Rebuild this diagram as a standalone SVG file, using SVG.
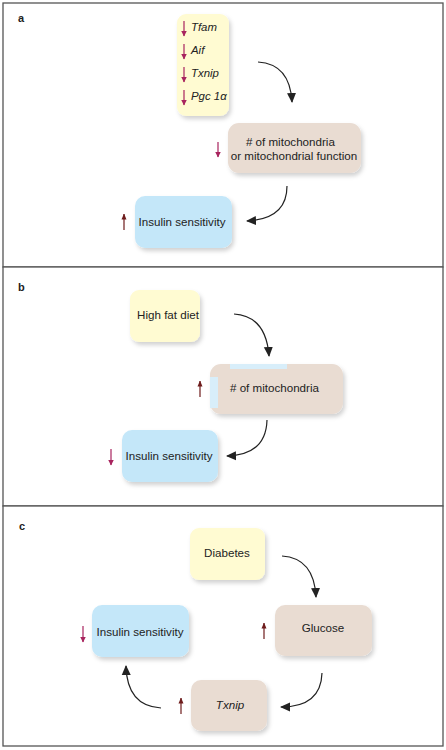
<svg xmlns="http://www.w3.org/2000/svg" width="446" height="750" viewBox="0 0 446 750">
<defs>
<style>
.panel{fill:#fff;stroke:#555;stroke-width:1.3}
.lbl{font-family:"Liberation Sans",Arial,sans-serif;font-weight:bold;font-size:11px;fill:#222}
.t{font-family:"Liberation Sans",Arial,sans-serif;font-size:11.6px;fill:#222}
.g{font-family:"Liberation Sans",Arial,sans-serif;font-size:11.4px;font-style:italic;fill:#222}
.yel{fill:#fffbd2}
.brn{fill:#e9dcd2}
.blu{fill:#c4e7f9}
.con{fill:none;stroke:#222;stroke-width:1.2;marker-end:url(#ah)}
.dn{stroke:#a8245e;stroke-width:1.2;marker-end:url(#pk)}
.up{stroke:#6e1c1c;stroke-width:1.2;marker-end:url(#rd)}
</style>
<filter id="sh" x="-20%" y="-20%" width="150%" height="160%">
<feDropShadow dx="2" dy="3" stdDeviation="2" flood-color="#000" flood-opacity="0.18"/>
</filter>
<marker id="ah" markerUnits="userSpaceOnUse" markerWidth="10" markerHeight="10" viewBox="0 0 10 10" refX="9" refY="5" orient="auto">
<path d="M0,0.5 L10,5 L0,9.5 Z" fill="#222"/>
</marker>
<marker id="pk" markerUnits="userSpaceOnUse" markerWidth="6" markerHeight="6" viewBox="0 0 6 6" refX="5.5" refY="3" orient="auto">
<path d="M0,0 L6,3 L0,6 Z" fill="#a8245e"/>
</marker>
<marker id="rd" markerUnits="userSpaceOnUse" markerWidth="6" markerHeight="6" viewBox="0 0 6 6" refX="5.5" refY="3" orient="auto">
<path d="M0,0.5 L6,3 L0,5.5 Z" fill="#6e1c1c"/>
</marker>
</defs>

<rect class="panel" x="3" y="3" width="440" height="264"/>
<rect class="panel" x="3" y="267" width="440" height="239"/>
<rect class="panel" x="3" y="506" width="440" height="240"/>

<!-- Panel a -->
<text class="lbl" x="18" y="22">a</text>
<g id="a-genes">
<rect class="yel" x="177" y="14" width="52" height="102" rx="9" filter="url(#sh)"/>
<line class="dn" x1="184" y1="21" x2="184" y2="36"/>
<text class="g" x="191" y="31">Tfam</text>
<line class="dn" x1="184" y1="44" x2="184" y2="59"/>
<text class="g" x="191" y="54">Aif</text>
<line class="dn" x1="184" y1="67" x2="184" y2="82"/>
<text class="g" x="191" y="77">Txnip</text>
<line class="dn" x1="184" y1="90" x2="184" y2="105"/>
<text class="g" x="191" y="100">Pgc 1α</text>
</g>
<g id="a-mito">
<rect class="brn" x="228" y="123" width="133" height="50" rx="11" filter="url(#sh)"/>
<text class="t" x="292" y="146" text-anchor="middle">
<tspan x="292" y="146"># of mitochondria</tspan>
<tspan x="294" y="160">or mitochondrial function</tspan>
</text>
<line class="dn" x1="218" y1="142" x2="218" y2="157"/>
</g>
<g id="a-insulin">
<rect class="blu" x="135" y="196" width="97" height="52" rx="10" filter="url(#sh)"/>
<text class="t" x="182" y="226" text-anchor="middle">Insulin sensitivity</text>
<line class="up" x1="124" y1="230" x2="124" y2="214"/>
</g>

<!-- Panel b -->
<text class="lbl" x="18" y="291">b</text>
<g id="b-hfd">
<rect class="yel" x="130" y="290" width="70" height="52" rx="9" filter="url(#sh)"/>
<text class="t" x="168" y="319" text-anchor="middle">High fat diet</text>
</g>
<g id="b-mito">
<rect class="brn" x="210" y="364" width="133" height="50" rx="11" filter="url(#sh)"/>
<rect x="230" y="364" width="57" height="5" fill="#d8eefa"/>
<rect x="210" y="377" width="8" height="31" fill="#d8eefa"/>
<text class="t" x="230" y="392"># of mitochondria</text>
<line class="up" x1="200" y1="397" x2="200" y2="381"/>
</g>
<g id="b-insulin">
<rect class="blu" x="122" y="430" width="96" height="52" rx="10" filter="url(#sh)"/>
<text class="t" x="169" y="460" text-anchor="middle">Insulin sensitivity</text>
<line class="dn" x1="111" y1="449" x2="111" y2="465"/>
</g>

<!-- Panel c -->
<text class="lbl" x="19" y="530">c</text>
<g id="c-diabetes">
<rect class="yel" x="190" y="528" width="75" height="52" rx="9" filter="url(#sh)"/>
<text class="t" x="227" y="557" text-anchor="middle">Diabetes</text>
</g>
<g id="c-glucose">
<rect class="brn" x="275" y="605" width="97" height="51" rx="10" filter="url(#sh)"/>
<text class="t" x="323" y="632" text-anchor="middle">Glucose</text>
<line class="up" x1="264" y1="639" x2="264" y2="623"/>
</g>
<g id="c-txnip">
<rect class="brn" x="191" y="680" width="76" height="51" rx="10" filter="url(#sh)"/>
<text class="t" x="230" y="709" text-anchor="middle" font-style="italic">Txnip</text>
<line class="up" x1="181" y1="714" x2="181" y2="698"/>
</g>
<g id="c-insulin">
<rect class="blu" x="92" y="605" width="97" height="52" rx="10" filter="url(#sh)"/>
<text class="t" x="140" y="636" text-anchor="middle">Insulin sensitivity</text>
<line class="dn" x1="83" y1="626" x2="83" y2="642"/>
</g>

<g id="connectors">
<path class="con" d="M258,62 Q290,64 292,102"/>
<path class="con" d="M287,186 Q287,219 247,221"/>
<path class="con" d="M234,314 Q266,316 269,356"/>
<path class="con" d="M267,420 Q266,455 227,456"/>
<path class="con" d="M282,556 Q314,558 316,597"/>
<path class="con" d="M322,673 Q321,707 281,707"/>
<path class="con" d="M161,708 Q127,706 126,666"/>
</g>
</svg>
